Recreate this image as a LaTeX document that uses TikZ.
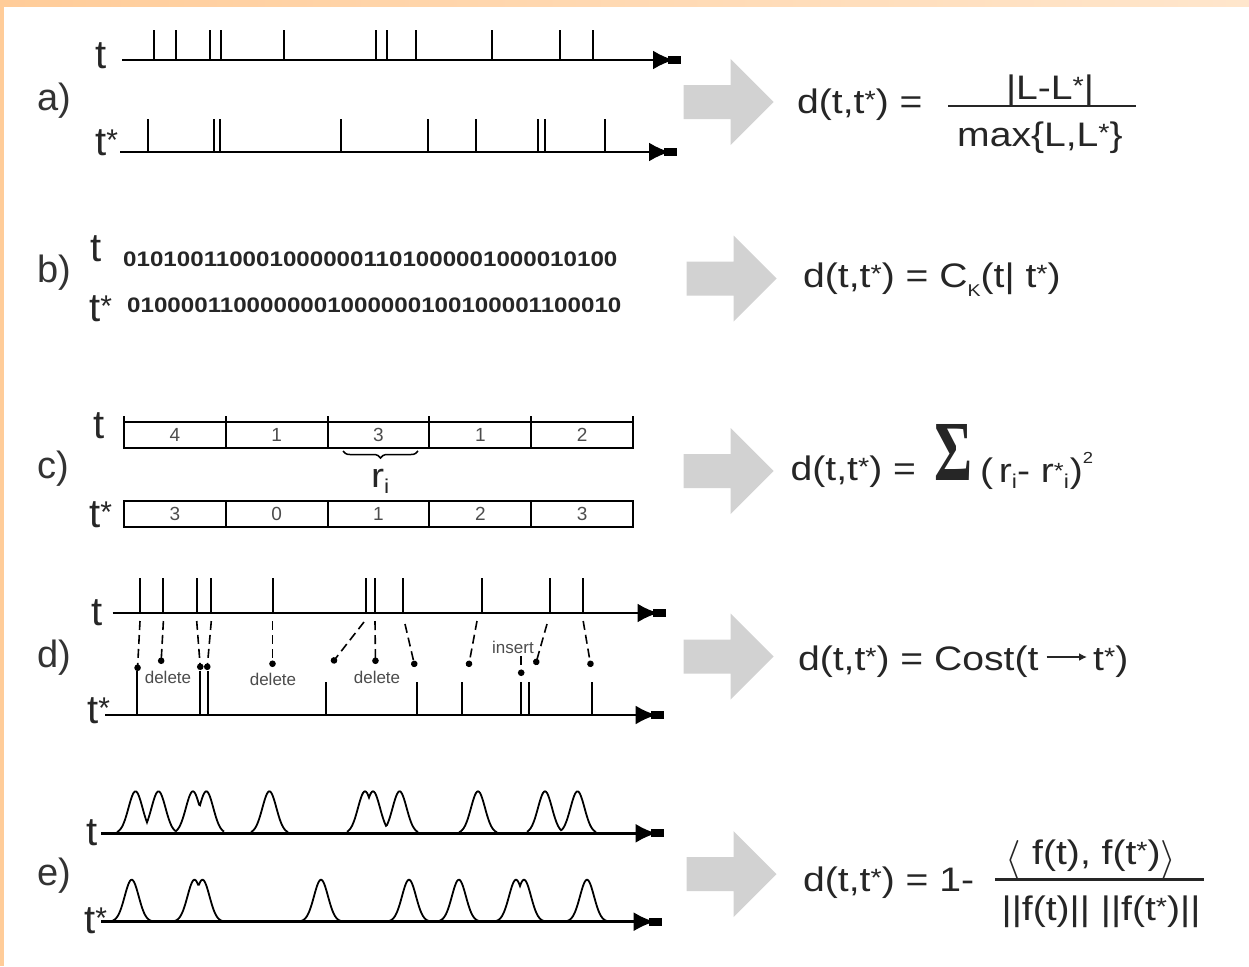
\documentclass[tikz,border=0pt]{standalone}
\usepackage{fontspec}
\usepackage{graphicx}
\setmainfont{Liberation Sans}
\newfontfamily\wide{Liberation Sans}[FakeStretch=1.15]
\newfontfamily\bitsfont{Liberation Sans}[FakeStretch=1.15]
\newfontfamily\serifgr{Liberation Serif}
\usetikzlibrary{arrows.meta,decorations.pathreplacing}
\definecolor{bandA}{HTML}{FFCC99}
\definecolor{bandB}{HTML}{FFE6CC}
\definecolor{arrowgray}{HTML}{D2D2D2}
\newcommand\fs[1]{\fontsize{#1}{#1}\selectfont}
\newcommand\lo[1]{\raisebox{-6pt}{\fs{20}#1}}
\newcommand\fst{\raisebox{5pt}{\fs{25}*}}
\newcommand\lst{\raisebox{5pt}{\fs{30}*}}
\newcommand\bigarrow[2]{\fill[bigarr] (#1,{#2-17}) -- ({#1+47},{#2-17}) -- ({#1+47},{#2-43}) -- ({#1+90},#2) -- ({#1+47},{#2+43}) -- ({#1+47},{#2+17}) -- (#1,{#2+17}) -- cycle;}
\tikzset{
 declare function={g(\u,\c)=exp(-((min(abs(\u-\c),40))*(min(abs(\u-\c),40)))/98);},
 axis/.style={line width=2.6pt, -{Latex[length=21pt,width=19pt,sep=-6pt]Rectangle[length=13pt,width=8pt]}},
 tick/.style={line width=2pt},
 lbl/.style={font=\fs{40}, inner sep=0pt, anchor=base west, text=black!85},
 plbl/.style={font=\fs{38}, inner sep=0pt, anchor=base west, text=black!80},
 frm/.style={font=\wide\fs{34}, inner sep=0pt, anchor=base west, text=black!85},
 frmc/.style={font=\wide\fs{34}, inner sep=0pt, anchor=base, text=black!85},
 bigarr/.style={fill=arrowgray},
 conn/.style={line width=1.6pt, dash pattern=on 9pt off 5pt, -{Circle[length=6.5pt]}},
 small/.style={font=\fs{17}, text=black!70, inner sep=0pt},
 cellbox/.style={draw, line width=2pt, minimum width=101.8pt, minimum height=26pt, inner sep=0pt, font=\fs{19}, text=black!70},
 bump/.style={line width=1.8pt},
 bits/.style={font=\bitsfont\bfseries\fs{21}, inner sep=0pt, anchor=base west, text=black!85},
 brace/.style={decorate, decoration={brace, amplitude=7pt}, line width=1.5pt},
 fracline/.style={line width=2.4pt, black!85},
}
\begin{document}
\begin{tikzpicture}[x=1pt,y=-1pt]
\useasboundingbox (0,0) rectangle (1249,966);
\fill[white] (0,0) rectangle (1249,966);
\shade[left color=bandA, right color=bandB] (0,0) rectangle (1249,7);
\fill[bandA] (0,0) rectangle (4,966);

% ---------- a ----------
\node[plbl] (la) at (37,110) {a)};
\node[lbl] (lat) at (95,68) {t};
\node[lbl] (las) at (95,155) {t\lst};
\coordinate (at0) at (122,60); \coordinate (at1) at (681,60);
\draw[axis] (at0) -- (at1);
\foreach \x in {154,176,210,221,284,376,387,416,492,560,593} \draw[tick] (\x,60) -- (\x,30);
\coordinate (as0) at (120,152); \coordinate (as1) at (677,152);
\draw[axis] (as0) -- (as1);
\foreach \x in {148,213.5,220,341,428,476,538,545,605} \draw[tick] (\x,152) -- (\x,119);
\bigarrow{683.6}{102}
\node[frm] (fa) at (797,113.3) {d(t,t\fst) =};
\node[frmc] (fan) at (1050,99) {|L-L\fst|};
\coordinate (fal0) at (948,105.7); \coordinate (fal1) at (1136,105.7);
\draw[fracline] (fal0) -- (fal1);
\node[frm] (fad) at (957,146) {max\{L,L\fst\}};

% ---------- b ----------
\node[plbl] (lb) at (37,282) {b)};
\node[lbl] (lbt) at (90,261) {t};
\node[lbl] (lbs) at (89,321) {t\lst};
\node[bits] (bt) at (123,266) {0101001100010000001101000001000010100};
\node[bits] (bs) at (127,312) {0100001100000001000000100100001100010};
\bigarrow{686.5}{278.5}
\node[frm] (fb) at (803,287) {d(t,t\fst) = C\raisebox{-9pt}{\fs{17}K}(t|~t\fst)};

% ---------- c ----------
\node[plbl] (lc) at (37,478) {c)};
\node[lbl] (lct) at (93,438) {t};
\node[lbl] (lcs) at (89,527) {t\lst};
\foreach [count=\i] \v in {4,1,3,1,2} \node[cellbox] (ct\i) at ({124+101.8*(\i-0.5)},434.7) {\v};
\foreach [count=\i] \v in {3,0,1,2,3} \node[cellbox] (cs\i) at ({124+101.8*(\i-0.5)},513.5) {\v};
\foreach \x in {124,225.8,327.6,429.4,531.2,633} \draw[tick] (\x,416) -- (\x,422);
\coordinate (br0) at (418,451); \coordinate (br1) at (343,451);
\draw[brace] (br0) -- (br1);
\node[frm] (ri) at (371,487) {r\lo{i}};
\bigarrow{683.6}{471}
\node[frm] (fc) at (790.5,480) {d(t,t\fst) =};
\node[inner sep=0pt, anchor=south west, text=black!85] (sig) at (934,481) {\resizebox{38pt}{56pt}{\serifgr\bfseries Σ}};
\node[frm] (fcr) at (980,482) {(\,r\lo{i}- r\raisebox{4pt}{\fs{22}*}\lo{i}\kern1pt)\raisebox{19pt}{\fs{16}2}};

% ---------- d ----------
\node[plbl] (ld) at (37,667) {d)};
\node[lbl] (ldt) at (91,625) {t};
\node[lbl] (lds) at (87,723) {t\lst};
\coordinate (dt0) at (112.5,613); \coordinate (dt1) at (665.5,613);
\draw[axis] (dt0) -- (dt1);
\foreach \x in {140,163.4,196.7,211.3,272.5,366.3,374.7,402.6,481.8,550,583.2} \draw[tick] (\x,613) -- (\x,578);
\coordinate (ds0) at (105,715); \coordinate (ds1) at (663.6,715);
\draw[axis] (ds0) -- (ds1);
\foreach \x in {326,416.8,462,521.2,528.9,592} \draw[tick] (\x,715) -- (\x,682);
\foreach \x in {137.4,199.8,208.2} \draw[tick] (\x,715) -- (\x,671);
% mapping connectors
\coordinate (c1a) at (140,621);   \coordinate (c1b) at (137.4,671);
\coordinate (c2a) at (163.4,621); \coordinate (c2b) at (161,664);
\coordinate (c3a) at (196.7,621); \coordinate (c3b) at (200.5,670);
\coordinate (c4a) at (211.3,621); \coordinate (c4b) at (207,670);
\coordinate (c5a) at (272.5,621); \coordinate (c5b) at (272.5,667);
\coordinate (c6a) at (364,622);   \coordinate (c6b) at (332,663);
\coordinate (c7a) at (375,621);   \coordinate (c7b) at (375.5,664);
\coordinate (c8a) at (405,624);   \coordinate (c8b) at (415,667);
\coordinate (c9a) at (477,621);   \coordinate (c9b) at (468.4,667);
\coordinate (c10a) at (521.2,656); \coordinate (c10b) at (521.2,676);
\coordinate (c11a) at (547,624);  \coordinate (c11b) at (535.4,665);
\coordinate (c12a) at (583.2,621); \coordinate (c12b) at (591,667);
\foreach \k in {1,...,12} \draw[conn] (c\k a) -- (c\k b);
\node[small] (del1) at (168,677) {delete};
\node[small] (del2) at (273,679) {delete};
\node[small] (del3) at (377,677) {delete};
\node[small] (ins) at (513,647) {insert};
\bigarrow{683.6}{656.5}
\node[frm] (fd1) at (797.8,670) {d(t,t\fst) = Cost(t};
\node[frm] (fd2) at (1093,670) {t\fst)};
\draw[line width=2.2pt, black!85, -{Latex[length=8pt,width=8pt]}] ([shift={(8,-13)}]fd1.base east) -- ([shift={(-6,-13)}]fd2.base west);

% ---------- e ----------
\node[plbl] (le) at (37,885) {e)};
\node[lbl] (let) at (86,845) {t};
\node[lbl] (les) at (84,933) {t\lst};
\coordinate (et0) at (101,833.3); \coordinate (et1) at (663.6,833.3);
\draw[axis] (et0) -- (et1);
\coordinate (es0) at (101,921.7); \coordinate (es1) at (661.7,921.7);
\draw[axis] (es0) -- (es1);
\draw[bump] plot[domain=117:224, samples=108] (\x,{833.3-42*max(g(\x,135.5),g(\x,158.5),g(\x,192.9),g(\x,206.3))});
\draw[bump] plot[domain=251:288, samples=38] (\x,{833.3-42*g(\x,269.4)});
\draw[bump] plot[domain=347:418, samples=72] (\x,{833.3-42*max(g(\x,365),g(\x,373),g(\x,399.6))});
\draw[bump] plot[domain=459:497, samples=39] (\x,{833.3-42*g(\x,478)});
\draw[bump] plot[domain=527:596, samples=70] (\x,{833.3-42*max(g(\x,545),g(\x,577.5))});
\draw[bump] plot[domain=101:239, samples=139] (\x,{921.7-42*max(g(\x,131.7),g(\x,194.5),g(\x,202.5))});
\draw[bump] plot[domain=288:360, samples=73] (\x,{921.7-42*g(\x,321)});
\draw[bump] plot[domain=376:620, samples=245] (\x,{921.7-42*max(g(\x,409),g(\x,458.9),g(\x,516),g(\x,524),g(\x,587))});
\bigarrow{686.5}{874}
\node[frm] (fe) at (803,891.7) {d(t,t\fst) = 1-};
\node[frmc] (fen) at (1091,864) {\raisebox{-6pt}{\resizebox{!}{30pt}{$\langle$}} f(t), f(t\fst)\raisebox{-6pt}{\resizebox{!}{30pt}{$\rangle$}}};
\coordinate (fel0) at (995,879.3); \coordinate (fel1) at (1203.5,879.3);
\draw[fracline] (fel0) -- (fel1);
\node[frmc] (fed) at (1101,920) {||f(t)||~||f(t\fst)||};
\end{tikzpicture}
\end{document}
